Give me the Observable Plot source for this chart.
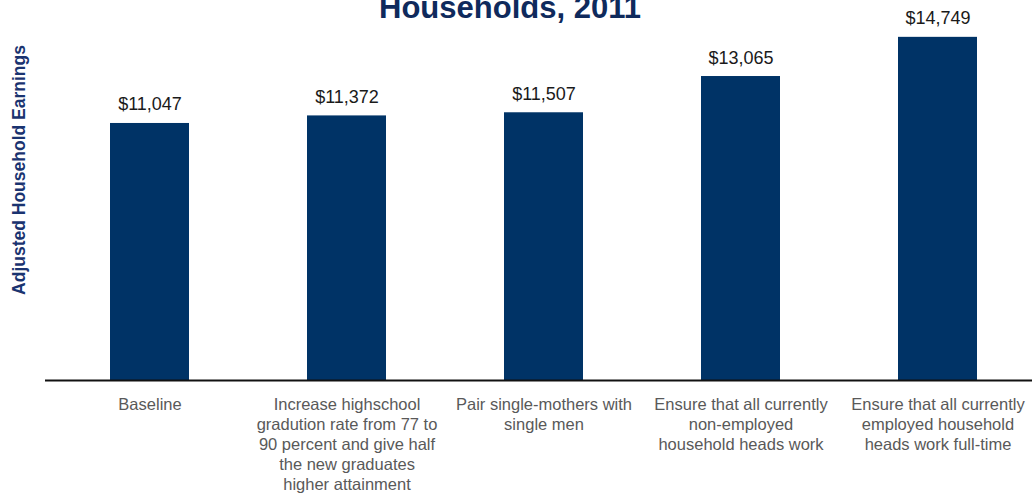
<!DOCTYPE html>
<html>
<head>
<meta charset="utf-8">
<script src="https://cdn.jsdelivr.net/npm/d3@7"></script>
<script src="https://cdn.jsdelivr.net/npm/@observablehq/plot@0.6"></script>
<style>
  html, body { margin: 0; padding: 0; background: #fff; overflow: hidden; }
  #wrap { position: relative; width: 1033px; height: 495px; font-family: "Liberation Sans", Arial, sans-serif; }
  #title { position: absolute; top: -8px; left: 0; width: 1020px; text-align: center; font-size: 31px; line-height: 31px; font-weight: bold; color: #0f2a5c; z-index: 2; }
  #ylabel { position: absolute; left: 19px; top: 170px; transform: translate(-50%, -50%) rotate(-90deg); white-space: nowrap; font-size: 17.5px; font-weight: bold; color: #1a3370; z-index: 2; }
  #chart { position: absolute; top: 0; left: 0; }
</style>
</head>
<body>
<div id="wrap">
  <div id="title">Households, 2011</div>
  <div id="ylabel"></div>
  <div id="chart"></div>
</div>
<script>
const categories = [
  "Baseline",
  "Increase highschool\ngradution rate from 77 to\n90 percent and give half\nthe new graduates\nhigher attainment",
  "Pair single-mothers with\nsingle men",
  "Ensure that all currently\nnon-employed\nhousehold heads work",
  "Ensure that all currently\nemployed household\nheads work full-time"
];
const earnings = [11047, 11372, 11507, 13065, 14749];
const yLabel = "Adjusted Household Earnings";

document.getElementById("ylabel").textContent = yLabel;

const data = categories.map((c, i) => ({category: c, value: earnings[i]}));
const fmt = d3.format("$,");

const chart = Plot.plot({
  width: 1033,
  height: 495,
  marginLeft: 45,
  marginRight: 1,
  marginTop: 31,
  marginBottom: 115,
  style: {fontFamily: "'Liberation Sans', Arial, sans-serif", background: "transparent"},
  x: {domain: categories, paddingInner: 0.6, paddingOuter: 0.28, insetLeft: 9, axis: null},
  y: {domain: [0, 15000], axis: null},
  marks: [
    Plot.barY(data, {x: "category", y: "value", fill: "#003366"}),
    Plot.text(data, {x: "category", y: "value", text: d => fmt(d.value), lineAnchor: "bottom", dy: -13, fontSize: 18, fill: "#1a1a1a"}),
    Plot.ruleY([0], {stroke: "#111", strokeWidth: 2}),
    Plot.axisX({tickSize: 0, tickPadding: 15, fontSize: 16.5, lineHeight: 1.22, color: "#595959", label: null})
  ]
});
document.getElementById("chart").appendChild(chart);
</script>
</body>
</html>
